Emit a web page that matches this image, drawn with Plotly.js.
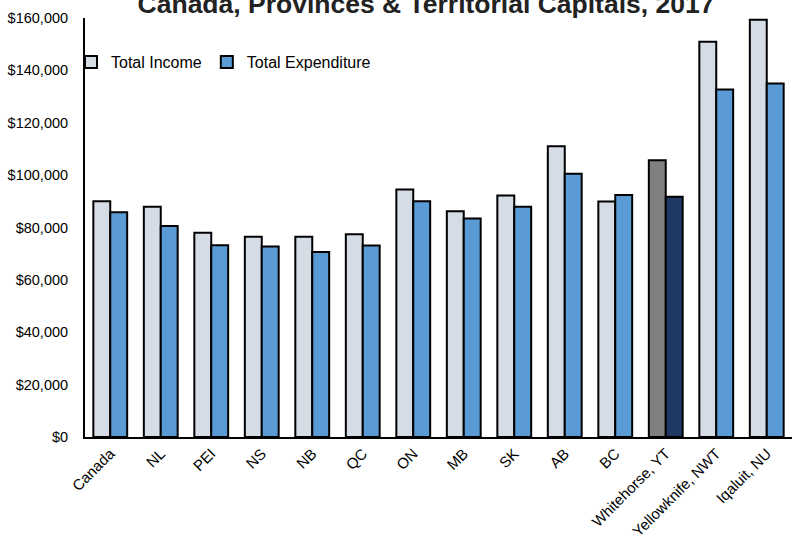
<!DOCTYPE html>
<html>
<head>
<meta charset="utf-8">
<script src="https://cdn.plot.ly/plotly-3.0.1.min.js"></script>
<style>html,body{margin:0;padding:0;background:#fff;}#chart{width:792px;height:534px;}</style>
</head>
<body>
<div id="chart"></div>
<script>
const categories = ["Canada","NL","PEI","NS","NB","QC","ON","MB","SK","AB","BC","Whitehorse, YT","Yellowknife, NWT","Iqaluit, NU"];
const totalIncome = [90000, 87900, 78000, 76500, 76500, 77400, 94500, 86200, 92200, 111000, 89900, 105700, 150900, 159300];
const totalExpenditure = [85800, 80600, 73200, 72700, 70600, 73100, 90000, 83400, 87900, 100500, 92400, 91700, 132700, 135000];
const highlightCategory = "Whitehorse, YT";

const incomeColor = "#D6DCE5", expColor = "#5B9BD5";
const hiIncomeColor = "#808080", hiExpColor = "#203864";
const incomeColors = categories.map(c => c === highlightCategory ? hiIncomeColor : incomeColor);
const expColors = categories.map(c => c === highlightCategory ? hiExpColor : expColor);

const font = "Arial, 'Liberation Sans', sans-serif";
const traces = [
  {type:"bar", name:"Total Income", x:categories, y:totalIncome,
   marker:{color:incomeColors, line:{color:"#000", width:2}}},
  {type:"bar", name:"Total Expenditure", x:categories, y:totalExpenditure,
   marker:{color:expColors, line:{color:"#000", width:2}}}
];
const layout = {
  width:792, height:534,
  margin:{l:85, r:0, t:18, b:97},
  paper_bgcolor:"#fff", plot_bgcolor:"#fff",
  font:{family:font, color:"#000"},
  title:{text:"<b>Canada, Provinces & Territorial Capitals, 2017</b>",
    font:{family:font, size:26.5, color:"#222"},
    xref:"container", x:426/792, xanchor:"center",
    yref:"container", y:1-4/534, yanchor:"middle"},
  barmode:"group", bargap:0.33, bargroupgap:0,
  showlegend:true,
  legend:{orientation:"h", x:(71-85)/707, xanchor:"left", y:0.895, yanchor:"middle",
    font:{family:font, size:16, color:"#000"}, bgcolor:"rgba(0,0,0,0)",
    itemwidth:30, traceorder:"normal"},
  xaxis:{tickangle:-45, tickfont:{family:font, size:15}, showline:true, linecolor:"#000", linewidth:2,
    ticks:"", showgrid:false, zeroline:false},
  yaxis:{range:[0,160000], dtick:20000, tickprefix:"$", tickformat:",d", separatethousands:true,
    tickfont:{family:font, size:14.5}, showline:true, linecolor:"#000", linewidth:2,
    ticks:"", showgrid:false, zeroline:false, ticklabelstandoff:12}
};
Plotly.newPlot("chart", traces, layout, {displayModeBar:false, staticPlot:true});
</script>
</body>
</html>
